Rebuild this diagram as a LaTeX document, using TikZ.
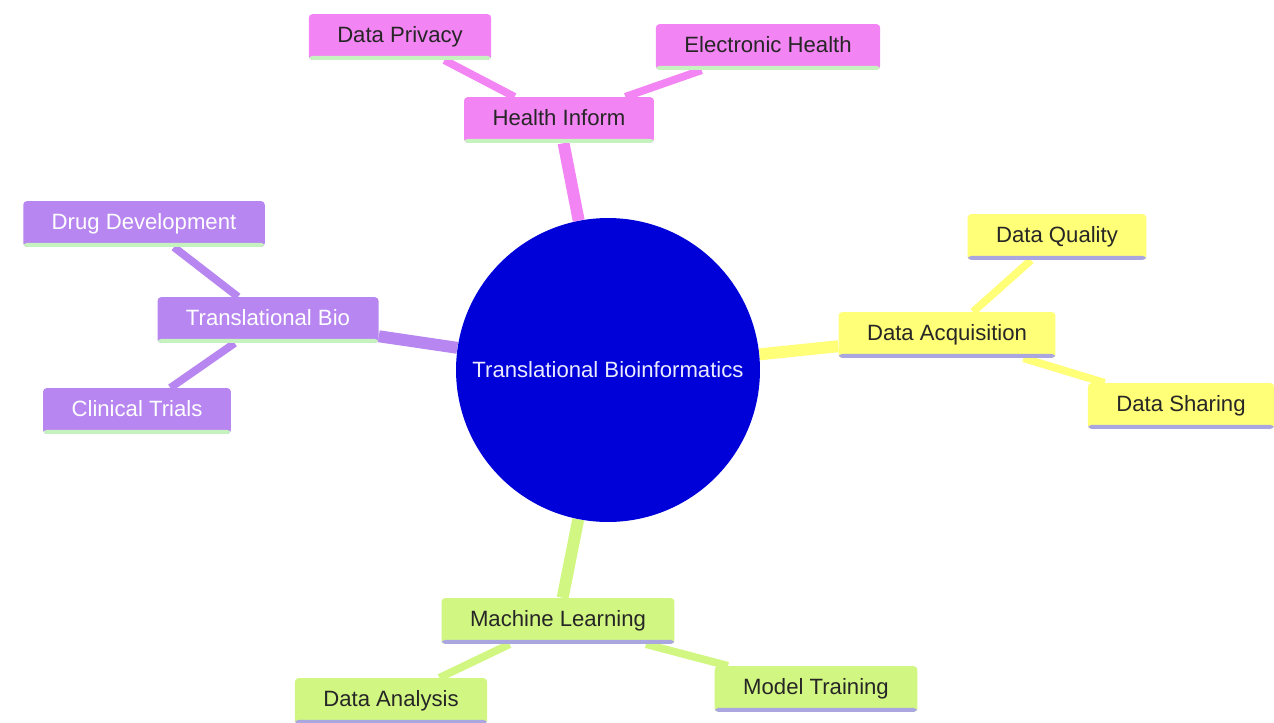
\documentclass[tikz,border=0pt]{standalone}
\usepackage{fontspec}
\setmainfont{Liberation Sans}
\usepackage{tikz}
\usetikzlibrary{positioning, backgrounds}

\definecolor{hpink}{HTML}{F384F3}
\definecolor{tpurple}{HTML}{B786F0}
\definecolor{dyellow}{HTML}{FFFF78}
\definecolor{mlime}{HTML}{D2F682}
\definecolor{rootblue}{HTML}{0000D8}
\definecolor{barlav}{HTML}{A9A6E0}
\definecolor{bargreen}{HTML}{C6F2C0}

\begin{document}
\begin{tikzpicture}[x=0.02cm, y=-0.02cm]
	\tikzset{box/.style={rectangle, rounded corners=2pt, fill=#1, inner xsep=16.2pt, inner ysep=0pt, minimum height=26pt, text height=9pt, text depth=2.6pt, font=\fontsize{12.6}{15}\selectfont, text=black!85}}
	\tikzset{bar/.style={path picture={\fill[#1] ([yshift=2.2pt]path picture bounding box.south west) rectangle (path picture bounding box.south east);}}}
	\tikzset{trunk/.style={draw=#1, line width=6.8pt}}
	\tikzset{twig/.style={draw=#1, line width=4.4pt}}

	\useasboundingbox (0,0) rectangle (1274,723);

	\node (root) [circle, fill=rootblue, minimum size=6.08cm, inner sep=0pt, text=blue!8, font=\fontsize{12.6}{15}\selectfont] at (608,370) {Translational Bioinformatics};

	% health branch
	\node (hi) [box=hpink, bar=bargreen] at (559,120) {Health Inform};
	\node (dp) [box=hpink, bar=bargreen] at (400,37) {Data Privacy};
	\node (eh) [box=hpink, bar=bargreen] at (768,47) {Electronic Health};

	% translational branch
	\node (tb) [box=tpurple, bar=bargreen, text=white] at (268,320) {Translational Bio};
	\node (dd) [box=tpurple, bar=bargreen, text=white] at (144,224) {Drug Development};
	\node (ct) [box=tpurple, bar=bargreen, text=white] at (137,411) {Clinical Trials};

	% data branch
	\node (da) [box=dyellow, bar=barlav] at (947,335) {Data Acquisition};
	\node (dq) [box=dyellow, bar=barlav] at (1057,237) {Data Quality};
	\node (ds) [box=dyellow, bar=barlav] at (1181,406) {Data Sharing};

	% learning branch
	\node (ml) [box=mlime, bar=barlav] at (558,621) {Machine Learning};
	\node (dan) [box=mlime, bar=barlav] at (391,701) {Data Analysis};
	\node (mt) [box=mlime, bar=barlav] at (816,689) {Model Training};

	\begin{scope}[on background layer]
		\draw[trunk=hpink] (root) -- (hi);
		\draw[twig=hpink] (hi) -- (dp);
		\draw[twig=hpink] (hi) -- (eh);

		\draw[trunk=tpurple] (root) -- (tb);
		\draw[twig=tpurple] (tb) -- (dd);
		\draw[twig=tpurple] (tb) -- (ct);

		\draw[trunk=dyellow] (root) -- (da);
		\draw[twig=dyellow] (da) -- (dq);
		\draw[twig=dyellow] (da) -- (ds);

		\draw[trunk=mlime] (root) -- (ml);
		\draw[twig=mlime] (ml) -- (dan);
		\draw[twig=mlime] (ml) -- (mt);
	\end{scope}
\end{tikzpicture}
\end{document}
